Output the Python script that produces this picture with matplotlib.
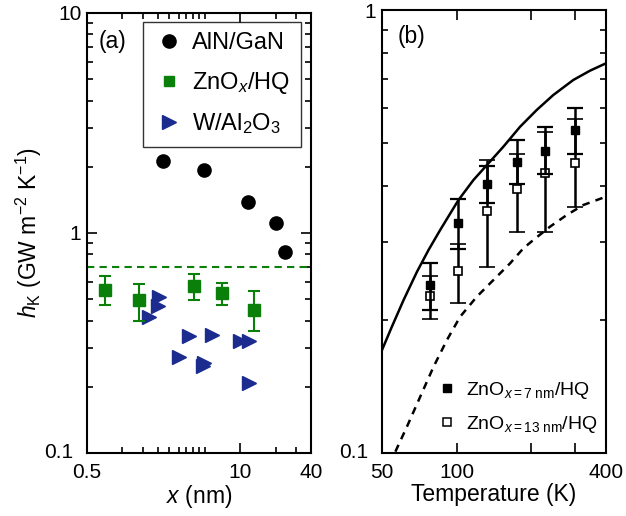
import numpy as np
import matplotlib
matplotlib.use('Agg')
import matplotlib.pyplot as plt
from matplotlib.ticker import FixedLocator, NullFormatter
from matplotlib.lines import Line2D
from matplotlib.transforms import ScaledTranslation

plt.rcParams['font.family'] = ['Liberation Sans', 'DejaVu Sans']
plt.rcParams['mathtext.fontset'] = 'custom'
plt.rcParams['mathtext.rm'] = 'Liberation Sans'
plt.rcParams['mathtext.it'] = 'Liberation Sans:italic'
plt.rcParams['mathtext.bf'] = 'Liberation Sans:bold'

# ---- panel (a) data ----
aln_x = [2.19, 4.9, 11.75, 20.1, 23.9]
aln_y = [2.13, 1.94, 1.38, 1.11, 0.818]

zno_x = [0.711, 1.39, 4.04, 7.01, 13.1]
zno_y = [0.552, 0.494, 0.574, 0.533, 0.449]
zno_lo = [0.469, 0.398, 0.498, 0.472, 0.357]
zno_hi = [0.635, 0.588, 0.653, 0.595, 0.543]

w_x = [2.05, 1.99, 1.69, 3.66, 5.77, 3.02, 4.97, 4.85, 10.0, 12.0, 12.0]
w_y = [0.511, 0.464, 0.415, 0.339, 0.343, 0.272, 0.257, 0.248, 0.323, 0.323, 0.207]

hq_limit = 0.7

# ---- panel (b) data ----
temp = [78, 101, 133, 175, 227, 300]
h7 = [0.239, 0.330, 0.405, 0.453, 0.481, 0.536]
h7_lo = [0.210, 0.289, 0.366, 0.404, 0.426, 0.473]
h7_hi = [0.269, 0.3745, 0.445, 0.509, 0.544, 0.600]
h13 = [0.226, 0.257, 0.352, 0.394, 0.429, 0.451]
h13_lo = [0.201, 0.218, 0.263, 0.316, 0.316, 0.359]
h13_hi = [0.251, 0.296, 0.459, 0.473, 0.531, 0.567]

solid_T = [50, 54.8, 61.1, 69.2, 77.0, 85.8, 101.7, 116.9, 132.4, 154.3, 180.2,
           210.3, 245.3, 295.2, 344.8, 400]
solid_h = [0.1708, 0.1928, 0.2215, 0.2566, 0.2872, 0.3187, 0.3725, 0.4134, 0.4467,
           0.4914, 0.5452, 0.5948, 0.6429, 0.695, 0.7295, 0.758]
dash_T = [56.6, 63.0, 71.3, 80.7, 91.4, 103.3, 120.6, 140.7, 164.3, 185.8, 203.8,
          238, 277.8, 324, 400]
dash_h = [0.1007, 0.1146, 0.1340, 0.1566, 0.1800, 0.2031, 0.2254, 0.2458, 0.2681,
          0.2898, 0.3026, 0.3243, 0.3445, 0.3629, 0.379]

green = '#0a800a'
navy = '#1b2c8e'
fs_tick = 15
fs_lab = 16.5

fig = plt.figure(figsize=(6.26, 5.16), dpi=100)
ax1 = fig.add_axes([87/626, 63/516, 224/626, 440/516])
ax2 = fig.add_axes([382/626, 63/516, 224/626, 443/516])

# panel (a)
ax1.plot(aln_x, aln_y, 'o', color='black', ms=9.5, zorder=4)
zno_err = [np.array(zno_y) - np.array(zno_lo), np.array(zno_hi) - np.array(zno_y)]
ax1.errorbar(zno_x, zno_y, yerr=zno_err, fmt='s', color=green, ms=8, capsize=4,
             elinewidth=1.5, capthick=1.5, zorder=4)
ax1.plot(w_x, w_y, '>', color=navy, ms=10.5, zorder=3)
ax1.axhline(hq_limit, color=green, ls=(0, (3.5, 2.5)), lw=1.5)

ax1.set_xscale('log')
ax1.set_yscale('log')
ax1.set_xlim(0.5, 40)
ax1.set_ylim(0.1, 10)
ax1.set_xticks([0.5, 10, 40])
ax1.set_xticklabels(['0.5', '10', '40'])
ax1.xaxis.set_minor_locator(FixedLocator([1, 1.5, 2, 2.5, 3, 3.5, 4, 4.5, 5, 20, 30]))
ax1.xaxis.set_minor_formatter(NullFormatter())
ax1.set_yticks([0.1, 1, 10])
ax1.set_yticklabels(['0.1', '1', '10'])
ax1.yaxis.set_minor_formatter(NullFormatter())
ax1.set_xlabel('$x$ (nm)', fontsize=fs_lab, labelpad=1)
ax1.set_ylabel(r'$h_\mathrm{K}$ (GW m$^{-2}$ K$^{-1}$)', fontsize=fs_lab, labelpad=0)
ax1.text(0.05, 0.935, '(a)', transform=ax1.transAxes, fontsize=fs_lab, va='center')

handles1 = [Line2D([], [], marker='o', ls='', color='black', ms=9.5),
            Line2D([], [], marker='s', ls='', color=green, ms=7),
            Line2D([], [], marker='>', ls='', color=navy, ms=10.5)]
labels1 = ['AlN/GaN', 'ZnO$_{x}$/HQ', 'W/Al$_2$O$_3$']
leg = ax1.legend(handles1, labels1, loc='upper right', bbox_to_anchor=(0.955, 0.98),
                 fontsize=17, frameon=True, fancybox=False, edgecolor='black',
                 borderaxespad=0, handletextpad=0.35, handlelength=1.3,
                 labelspacing=0.65, borderpad=0.45)
leg.get_frame().set_linewidth(1.0)

# panel (b)
e7 = [np.array(h7) - np.array(h7_lo), np.array(h7_hi) - np.array(h7)]
e13 = [np.array(h13) - np.array(h13_lo), np.array(h13_hi) - np.array(h13)]
ax2.plot(solid_T, solid_h, '-', color='black', lw=1.8)
ax2.plot(dash_T, dash_h, color='black', lw=1.8, ls=(0, (3, 2.5)))
ax2.errorbar(temp, h13, yerr=e13, fmt='s', mfc='white', mec='black', color='black',
             ms=6, capsize=5.5, elinewidth=1.8, capthick=1.6, mew=1.2, zorder=3)
ax2.errorbar(temp, h7, yerr=e7, fmt='s', color='black', ms=6, capsize=5.5,
             elinewidth=1.8, capthick=1.6, zorder=4)

ax2.set_xscale('log')
ax2.set_yscale('log')
ax2.set_xlim(50, 400)
ax2.set_ylim(0.1, 1)
ax2.set_xticks([50, 100, 200, 300, 400])
ax2.set_xticklabels(['50', '100', '', '', '400'])
ax2.xaxis.set_minor_locator(FixedLocator([]))
ax2.set_yticks([0.1, 1])
ax2.set_yticklabels(['0.1', '1'])
ax2.yaxis.set_minor_formatter(NullFormatter())
ax2.set_xlabel('Temperature (K)', fontsize=fs_lab, labelpad=1)
ax2.text(0.07, 0.94, '(b)', transform=ax2.transAxes, fontsize=fs_lab, va='center')

handles2 = [Line2D([], [], marker='s', ls='', color='black', ms=5.5),
            Line2D([], [], marker='s', ls='', mfc='white', mec='black', mew=1.1, ms=5.5)]
labels2 = [r'ZnO$_{x\mathrm{=7\ nm}}$/HQ', r'ZnO$_{x\mathrm{=13\ nm}}$/HQ']
ax2.legend(handles2, labels2, loc='lower left', bbox_to_anchor=(0.245, 0.04),
           frameon=False, fontsize=14, borderpad=0, borderaxespad=0,
           handletextpad=0.5, handlelength=1.0, labelspacing=0.7)

for ax in (ax1, ax2):
    for s in ax.spines.values():
        s.set_linewidth(1.5)
    ax.tick_params(which='both', direction='in', top=True, right=True,
                   labelsize=fs_tick, width=1.2)
    ax.tick_params(which='major', length=7)
    ax.tick_params(which='minor', length=4)
    ax.tick_params(axis='x', which='major', pad=7)
    ax.tick_params(axis='y', which='major', pad=4)
    # the reference nudges the lowest y label left so it clears the x labels
    lab = ax.get_yticklabels()[0]
    lab.set_transform(lab.get_transform() + ScaledTranslation(-8/100, 2/100, fig.dpi_scale_trans))

fig.savefig('out.png', dpi=100)
